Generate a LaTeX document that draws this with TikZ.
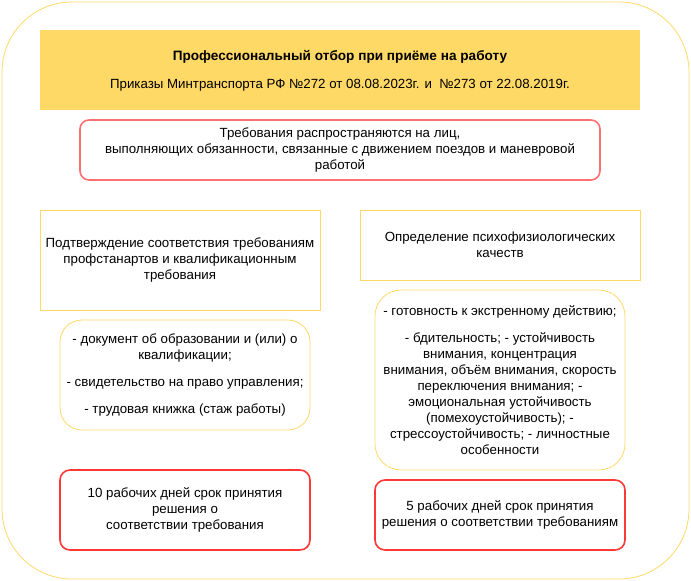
\documentclass[tikz,border=0pt]{standalone}
\usepackage{fontspec}
\setmainfont{Liberation Sans}
\usepackage{xcolor}
\usepackage{tikz}

\definecolor{gold}{HTML}{FFD966}
\definecolor{softred}{HTML}{FF6F6F}
\definecolor{brightred}{HTML}{FF3838}

\begin{document}
\begin{tikzpicture}[x=1pt,y=-1pt,
   font=\fontsize{13.3}{16}\selectfont,
   head/.style={fill=gold,draw=none,minimum width=600pt,minimum height=80pt,
     align=center},
   redbox/.style={rounded corners=9pt,draw=softred,line width=1.6pt,fill=white,
     align=center},
   hardred/.style={rounded corners=10pt,draw=brightred,line width=1.6pt,fill=white,
     align=center,minimum width=250pt},
   plain/.style={draw=gold,line width=0.8pt,fill=white,align=center,
     minimum width=280pt},
   soft/.style={rounded corners=22pt,draw=gold,line width=0.8pt,fill=white,
     align=center,minimum width=250pt}]
  \useasboundingbox (0,0) rectangle (691,581);
  % frame
  \draw[gold,line width=0.8pt,rounded corners=70pt] (2,2) rectangle (689,579);
  % header
  \node[head] (head) at (340,70) {};
  \node[font=\fontsize{13.6}{16}\selectfont\bfseries] (title) at (340,57)
    {Профессиональный отбор при приёме на работу};
  \node (orders) at (340,85)
    {Приказы Минтранспорта РФ №272 от 08.08.2023г. и\ \ №273 от 22.08.2019г.};
  % scope
  \node[redbox,minimum width=520pt,minimum height=60pt] (scope) at (340,150)
    {Требования распространяются на лиц,\\
     выполняющих обязанности, связанные с движением поездов и маневровой\\
     работой};
  % left column
  \node[plain,minimum height=100pt] (conf) at (180,260)
    {Подтверждение соответствия требованиям\\
     профстанартов и квалификационным\\
     требования};
  \node[soft,minimum height=110pt] (docs) at (185,375)
    {- документ об образовании и (или) о\\
     квалификации;\\[11pt]
     - свидетельство на право управления;\\[11pt]
     - трудовая книжка (стаж работы)};
  \node[hardred,minimum height=80pt] (ten) at (185,510)
    {10 рабочих дней срок принятия\\
     решения о\\
     соответствии требования};
  % right column
  \node[plain,minimum height=70pt] (psy) at (500,245)
    {Определение психофизиологических\\
     качеств};
  \node[soft,rounded corners=26pt,minimum height=180pt] (qual) at (500,380)
    {- готовность к экстренному действию;\\[11pt]
     - бдительность; - устойчивость\\
     внимания, концентрация\\
     внимания, объём внимания, скорость\\
     переключения внимания; -\\
     эмоциональная устойчивость\\
     (помехоустойчивость); -\\
     стрессоустойчивость; - личностные\\
     особенности};
  \node[hardred,minimum height=70pt] (five) at (500,515)
    {5 рабочих дней срок принятия\\
     решения о соответствии требованиям};
\end{tikzpicture}
\end{document}
